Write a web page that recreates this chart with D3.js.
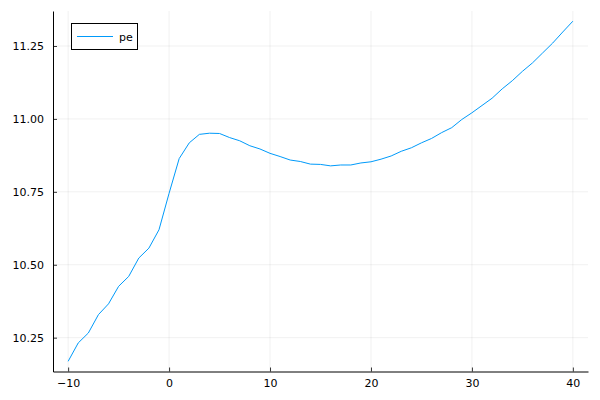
<!DOCTYPE html>
<html><head><meta charset="utf-8">
<script src="https://cdn.jsdelivr.net/npm/d3@7"></script>
<style>body{margin:0;background:#fff}svg{display:block}</style>
</head><body>
<svg id="c" width="600" height="400"></svg>
<script>
const xs = [-10,-9,-8,-7,-6,-5,-4,-3,-2,-1,0,1,2,3,4,5,6,7,8,9,10,11,12,13,14,15,16,17,18,19,20,21,22,23,24,25,26,27,28,29,30,31,32,33,34,35,36,37,38,39,40];
const pe = [10.169,10.232,10.266,10.329,10.366,10.426,10.460,10.523,10.557,10.620,10.745,10.864,10.918,10.947,10.951,10.950,10.936,10.925,10.908,10.897,10.882,10.871,10.859,10.854,10.845,10.844,10.839,10.842,10.842,10.849,10.853,10.862,10.873,10.889,10.901,10.918,10.933,10.953,10.970,10.998,11.021,11.046,11.071,11.103,11.131,11.163,11.192,11.226,11.260,11.298,11.335];
const xTicks = [-10,0,10,20,30,40];
const yTicks = [10.25,10.50,10.75,11.00,11.25];
const seriesName = "pe";

const svg = d3.select("#c");
const L=53, R=588, T=11, B=371.5;
const xmin=d3.min(xs), xmax=d3.max(xs), ymin=d3.min(pe), ymax=d3.max(pe);
const xw=(xmax-xmin)*0.03, yw=(ymax-ymin)*0.03;
const x=d3.scaleLinear().domain([xmin-xw,xmax+xw]).range([L,R]);
const y=d3.scaleLinear().domain([ymin-yw,ymax+yw]).range([B,T]);
const font="DejaVu Sans, sans-serif";

// grid
svg.append("g").selectAll("line").data(xTicks).join("line")
 .attr("x1",d=>x(d)).attr("x2",d=>x(d)).attr("y1",T).attr("y2",B)
 .attr("stroke","#000").attr("stroke-opacity",0.1).attr("stroke-width",0.6);
svg.append("g").selectAll("line").data(yTicks).join("line")
 .attr("y1",d=>y(d)).attr("y2",d=>y(d)).attr("x1",L).attr("x2",R)
 .attr("stroke","#000").attr("stroke-opacity",0.1).attr("stroke-width",0.6);

// axes
const fmtX = d => d<0 ? "\u2212"+Math.abs(d) : String(d);
const xa = svg.append("g").attr("transform",`translate(0,${B})`)
 .call(d3.axisBottom(x).tickValues(xTicks).tickFormat(fmtX).tickSizeInner(-4).tickSizeOuter(0).tickPadding(8));
const ya = svg.append("g").attr("transform",`translate(${L},0)`)
 .call(d3.axisLeft(y).tickValues(yTicks).tickFormat(d3.format(".2f")).tickSizeInner(-4).tickSizeOuter(0).tickPadding(9));
[xa,ya].forEach(a=>{
 a.select(".domain").attr("stroke","#000").attr("stroke-width",1);
 a.selectAll(".tick line").attr("stroke","#000").attr("stroke-width",0.8);
 a.selectAll("text").attr("font-family",font).attr("font-size",11).attr("fill","#000");
});
xa.selectAll("text").attr("dy","0.71em");

// line
const line=d3.line().x((d,i)=>x(xs[i])).y(d=>y(d));
svg.append("path").datum(pe).attr("d",line).attr("fill","none")
 .attr("stroke","#009AFA").attr("stroke-width",1);

// legend
const lg=svg.append("g");
lg.append("rect").attr("x",71.5).attr("y",23.5).attr("width",66).attr("height",26)
 .attr("fill","#fff").attr("stroke","#000").attr("stroke-width",1);
lg.append("line").attr("x1",77).attr("x2",113).attr("y1",36.5).attr("y2",36.5)
 .attr("stroke","#009AFA").attr("stroke-width",1);
lg.append("text").attr("x",119).attr("y",40.5).text(seriesName)
 .attr("font-family",font).attr("font-size",11).attr("fill","#000");
</script>
</body></html>
